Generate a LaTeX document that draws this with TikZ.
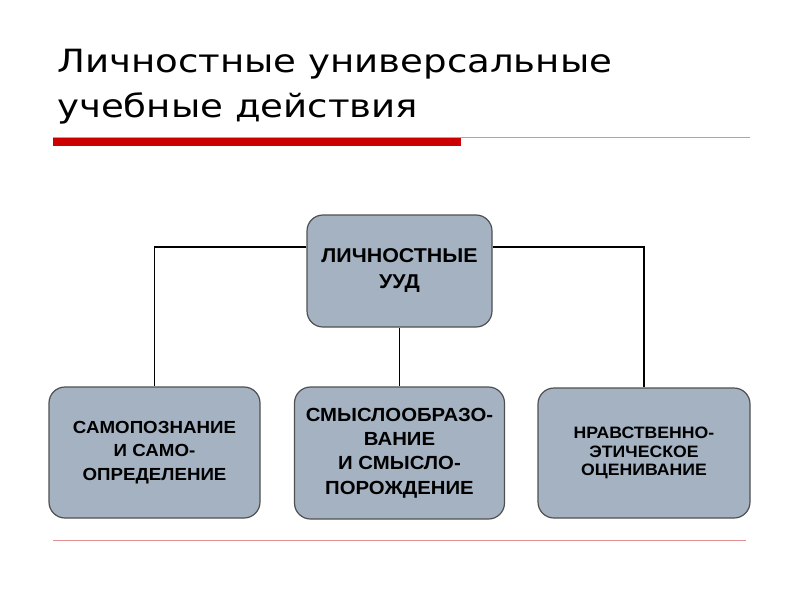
\documentclass[tikz,border=0pt]{standalone}
\usepackage{fontspec}
\setmainfont{Liberation Sans}
\newfontfamily\titlefont[FakeStretch=1.16]{DejaVu Sans}
\newfontfamily\boxfont[FakeStretch=1.07]{Liberation Sans}
\definecolor{boxfill}{HTML}{A4B2C2}
\definecolor{boxline}{HTML}{505050}
\definecolor{barred}{HTML}{CC0000}
\definecolor{rulered}{HTML}{E09090}
\begin{document}
\begin{tikzpicture}[x=1pt,y=-1pt,
  box/.style={draw=boxline,line width=1.2pt,fill=boxfill,rounded corners=16pt,align=center,inner sep=0pt,text=black},
  conn/.style={draw=black,line width=1.4pt},
  rulestyle/.style={draw=rulered,line width=1pt}]
\useasboundingbox (0,0) rectangle (800,600);
\fill[white] (0,0) rectangle (800,600);
% title
\node[anchor=north west, inner sep=0pt, align=left,
      font=\titlefont\fontsize{32}{45}\selectfont] (title) at (57,48.7)
      {Личностные универсальные\\учебные действия};
% rules
\coordinate (r1a) at (53,137.5);
\coordinate (r1b) at (750,137.5);
\draw[rulestyle] (r1a) -- (r1b);
\fill[barred] (53,137.5) rectangle (461,146);
\coordinate (r2a) at (53,540);
\coordinate (r2b) at (746,540);
\draw[rulestyle] (r2a) -- (r2b);
% boxes
\node[box, font=\boxfont\bfseries\fontsize{20}{26}\selectfont,
      minimum width=185pt, minimum height=112pt] (top) at (399.5,271)
  {ЛИЧНОСТНЫЕ\\УУД};
\node[box, font=\boxfont\bfseries\fontsize{17.5}{23.5}\selectfont,
      minimum width=211pt, minimum height=131pt] (left) at (154.5,452.5)
  {САМОПОЗНАНИЕ\\И САМО-\\ОПРЕДЕЛЕНИЕ};
\node[box, font=\boxfont\bfseries\fontsize{19}{24.3}\selectfont,
      minimum width=210pt, minimum height=132pt] (mid) at (399.5,453)
  {СМЫСЛООБРАЗО-\\ВАНИЕ\\И СМЫСЛО-\\ПОРОЖДЕНИЕ};
\node[box, font=\boxfont\bfseries\fontsize{16.5}{18.3}\selectfont,
      minimum width=212pt, minimum height=130pt] (right) at (644,453)
  {НРАВСТВЕННО-\\ЭТИЧЕСКОЕ\\ОЦЕНИВАНИЕ};
% connectors
\coordinate (hy) at (0,247);
\draw[conn] (top.west |- hy) -| (left.north);
\draw[conn] (top.east |- hy) -| (right.north);
\draw[conn] (top.south) -- (mid.north);
\end{tikzpicture}
\end{document}
